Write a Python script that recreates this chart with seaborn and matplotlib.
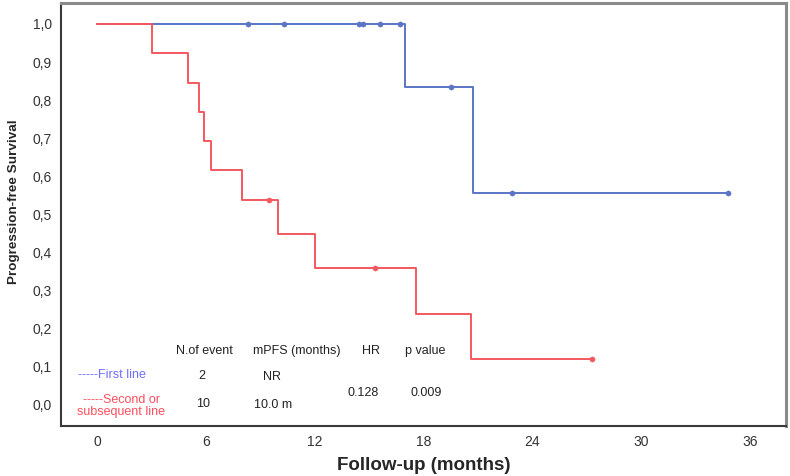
import numpy as np
import pandas as pd
import matplotlib
matplotlib.use("Agg")
import matplotlib.pyplot as plt
import seaborn as sns

# follow-up times (months) and event flags (1 = progression, 0 = censored)
first_times = [8.3, 10.3, 14.45, 14.65, 15.6, 16.7, 17.0, 19.5, 19.5, 20.75, 22.9, 34.8]
first_events = [0, 0, 0, 0, 0, 0, 1, 0, 0, 1, 0, 0]
second_times = [3.0, 5.0, 5.6, 5.9, 6.3, 8.0, 9.45, 10.0, 12.0, 15.3, 17.6, 20.6, 27.3]
second_events = [1, 1, 1, 1, 1, 1, 0, 1, 1, 0, 1, 1, 0]

x_ticks = [0, 6, 12, 18, 24, 30, 36]
y_ticks = [0.0, 0.1, 0.2, 0.3, 0.4, 0.5, 0.6, 0.7, 0.8, 0.9, 1.0]

header = ["N.of event", "mPFS (months)", "HR", "p value"]
row_first = ["2", "NR"]
row_second = ["10", "10.0 m"]
hr_text = "0.128"
p_text = "0.009"

blue = "#5b74c6"
red = "#f4585f"


def km_table(times, events):
    # Kaplan-Meier steps and censor marks
    order = np.argsort(times, kind="stable")
    t = np.array(times)[order]
    e = np.array(events)[order]
    at_risk = len(t)
    s = 1.0
    steps = [(0.0, 1.0)]
    cens = []
    for ti in np.unique(t):
        same = (t == ti)
        d = int(e[same].sum())
        c = int(same.sum() - d)
        if d > 0:
            s = s * (1 - d / at_risk)
            steps.append((ti, s))
        if c > 0:
            cens.append((ti, s))
        at_risk -= int(same.sum())
    steps.append((t.max(), s))
    return (pd.DataFrame(steps, columns=["time", "surv"]),
            pd.DataFrame(cens, columns=["time", "surv"]))


sns.set_style("white")
plt.rcParams["font.family"] = ["Liberation Sans", "DejaVu Sans"]

fig = plt.figure(figsize=(7.9, 4.76), dpi=100)
ax = fig.add_axes([0.0772, 0.105, 0.9177, 0.8887])

steps1, cens1 = km_table(first_times, first_events)
steps2, cens2 = km_table(second_times, second_events)

sns.lineplot(data=steps1, x="time", y="surv", drawstyle="steps-post", estimator=None,
             sort=False, color=blue, lw=1.4, ax=ax)
sns.scatterplot(data=cens1, x="time", y="surv", color=blue, s=14, edgecolor=blue, ax=ax)
sns.lineplot(data=steps2, x="time", y="surv", drawstyle="steps-post", estimator=None,
             sort=False, color=red, lw=1.4, ax=ax)
sns.scatterplot(data=cens2, x="time", y="surv", color=red, s=14, edgecolor=red, ax=ax)

ax.set_xlim(-2.0, 38.0)
ax.set_ylim(-0.056, 1.055)
ax.set_xticks(x_ticks)
ax.set_xticklabels([str(v) for v in x_ticks], fontsize=10, color="#333333")
ax.set_yticks(y_ticks)
ax.set_yticklabels([f"{v:.1f}".replace(".", ",") for v in y_ticks], fontsize=10, color="#333333")
ax.tick_params(axis="both", direction="out", length=4.5, width=1.5, color="#333333", pad=2)

for side in ["left", "bottom"]:
    ax.spines[side].set_color("#3a3a3a")
    ax.spines[side].set_linewidth(1.5)
for side in ["top", "right"]:
    ax.spines[side].set_color("#8a8a8a")
    ax.spines[side].set_linewidth(2.2)

ax.set_xlabel("Follow-up (months)", fontsize=13.5, fontweight="bold")
ax.xaxis.set_label_coords(0.5, -0.073)
ax.set_ylabel("Progression-free Survival", fontsize=9.7, fontweight="bold",
              family=["Liberation Sans Narrow", "Liberation Sans"])
ax.yaxis.set_label_coords(-0.056, 0.53)


def ft(px, py, s, color="#222222", **kw):
    fig.text(px / 790, 1 - py / 476, s, ha="center", va="center", fontsize=9,
             color=color, **kw)


# small results table in the lower left
for px, s in zip([204, 297, 371, 425], header):
    ft(px, 351, s)
ft(112, 375, "-----First line", color="#6f6fff")
ft(202, 376, row_first[0])
ft(272, 377, row_first[1])
ft(121, 406, "-----Second or\nsubsequent line", color="#ff4f5e", linespacing=0.95)
ft(203, 404, row_second[0])
ft(273, 405, row_second[1])
ft(363, 393, hr_text)
ft(426, 393, p_text)

fig.savefig("out.png", dpi=100)
